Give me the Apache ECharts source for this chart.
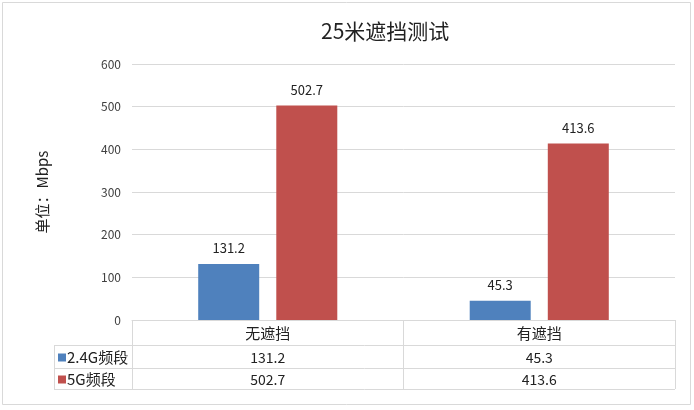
<!DOCTYPE html>
<html><head><meta charset="utf-8">
<script src="https://cdn.jsdelivr.net/npm/echarts@6/dist/echarts.min.js"></script>
<style>html,body{margin:0;padding:0;background:#fff}#c{width:694px;height:410px}</style>
</head><body><div id="c"></div>
<script>
const categories = ['无遮挡', '有遮挡'];
const seriesNames = ['2.4G频段', '5G频段'];
const values24 = [131.2, 45.3];
const values5 = [502.7, 413.6];
const yTicks = [0, 100, 200, 300, 400, 500, 600];
const titleText = '25米遮挡测试';
const yName = '单位：Mbps';
const colors = ['#4F81BD', '#C0504D'];
const FONT = '"Noto Sans CJK SC", "Noto Sans", sans-serif';
const textColor = '#404040';
const lineColor = '#D9D9D9';

const chart = echarts.init(document.getElementById('c'), null, {renderer: 'canvas'});
const option = {
  animation: false,
  backgroundColor: '#fff',
  title: {text: titleText, left: 316, top: 16, textStyle: {fontFamily: FONT, fontSize: 21, fontWeight: 'normal', color: '#222'}},
  grid: {left: 132, right: 19, top: 64, bottom: 90, containLabel: false},
  xAxis: {
    type: 'category', data: categories, boundaryGap: true,
    axisLine: {show: true, lineStyle: {color: lineColor, width: 1}},
    axisTick: {show: true, inside: false, length: 69, lineStyle: {color: lineColor}},
    axisLabel: {margin: 4, fontFamily: FONT, fontSize: 15, color: '#222', lineHeight: 18}
  },
  yAxis: {
    type: 'value', min: yTicks[0], max: yTicks[yTicks.length - 1], interval: 100,
    name: yName, nameLocation: 'middle', nameGap: 82, nameRotate: 90,
    nameTextStyle: {fontFamily: FONT, fontSize: 15, color: '#222'},
    axisLine: {show: false}, axisTick: {show: false},
    axisLabel: {margin: 11, fontFamily: FONT, fontSize: 12, color: textColor},
    splitLine: {lineStyle: {color: lineColor, width: 1}}
  },
  series: [
    {name: seriesNames[0], type: 'bar', data: values24, barWidth: 61, barGap: '28%',
     itemStyle: {color: colors[0]},
     label: {show: true, position: 'top', distance: 9, fontFamily: FONT, fontSize: 13, color: '#222'}},
    {name: seriesNames[1], type: 'bar', data: values5, barWidth: 61, barGap: '28%',
     itemStyle: {color: colors[1]},
     label: {show: true, position: 'top', distance: 9, fontFamily: FONT, fontSize: 13, color: '#222'}}
  ]
};
chart.setOption(option);

// Build data table below the plot from the axis scale
const y0 = chart.convertToPixel({yAxisIndex: 0}, 0);
const c0 = chart.convertToPixel({xAxisIndex: 0}, 0);
const c1 = chart.convertToPixel({xAxisIndex: 0}, 1);
const band = c1 - c0;
const xLeftPlot = c0 - band / 2;
const xRight = c1 + band / 2;
const tableLeft = 54;
const rowH = [25, 23, 21];
const r1 = y0 + rowH[0], r2 = r1 + rowH[1], r3 = r2 + rowH[2];
const g = [];
function hline(x1, x2, y) { g.push({type: 'line', shape: {x1, y1: y + 0.5, x2, y2: y + 0.5}, style: {stroke: lineColor, lineWidth: 1}, silent: true}); }
function vline(x, y1, y2) { g.push({type: 'line', shape: {x1: x + 0.5, y1, x2: x + 0.5, y2}, style: {stroke: lineColor, lineWidth: 1}, silent: true}); }
hline(tableLeft, xRight, r1);
hline(tableLeft, xRight, r2);
hline(tableLeft, xRight, r3);
vline(tableLeft, r1, r3);
const rows = [values24, values5];
[r1, r2].forEach((top, i) => {
  const h = rowH[i + 1];
  const cy = top + h / 2 + 1;
  g.push({type: 'rect', shape: {x: tableLeft + 4, y: cy - 4, width: 8, height: 8}, style: {fill: colors[i]}, silent: true});
  g.push({type: 'text', x: tableLeft + 13, y: cy, style: {text: seriesNames[i], fontFamily: FONT, fontSize: 15, fill: '#222', align: 'left', verticalAlign: 'middle'}, silent: true});
  categories.forEach((c, j) => {
    const cx = chart.convertToPixel({xAxisIndex: 0}, j);
    g.push({type: 'text', x: cx, y: cy, style: {text: String(rows[i][j]), fontFamily: FONT, fontSize: 14, fill: '#222', align: 'center', verticalAlign: 'middle'}, silent: true});
  });
});
// outer frame
g.push({type: 'rect', shape: {x: 2.5, y: 2.5, width: 688, height: 402}, style: {fill: 'none', stroke: '#D9D9D9', lineWidth: 1}, silent: true});
chart.setOption({graphic: g});
</script>
</body></html>
